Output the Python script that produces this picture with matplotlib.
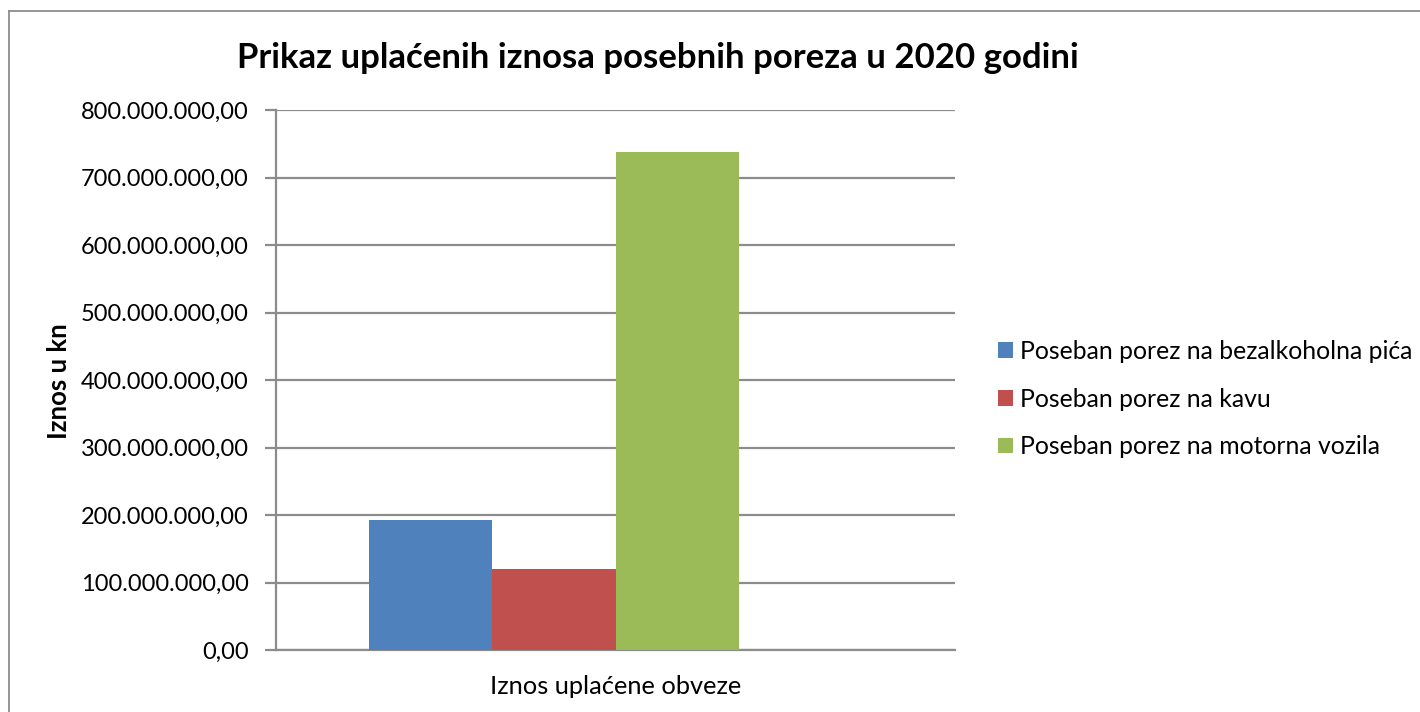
import matplotlib
matplotlib.use("Agg")
import matplotlib.pyplot as plt
from matplotlib.patches import Patch
from matplotlib.lines import Line2D
from matplotlib.ticker import FuncFormatter, MultipleLocator

# Data
categories = ["Iznos uplaćene obveze"]
series_names = [
    "Poseban porez na bezalkoholna pića",
    "Poseban porez na kavu",
    "Poseban porez na motorna vozila",
]
series_values = [192_500_000.0, 120_000_000.0, 738_000_000.0]
series_colors = ["#4F81BD", "#C0504D", "#9BBB59"]
title = "Prikaz uplaćenih iznosa posebnih poreza u 2020 godini"
ylabel = "Iznos u kn"

plt.rcParams["font.family"] = ["Lato", "DejaVu Sans"]

W, H = 1420, 712
fig = plt.figure(figsize=(W / 100, H / 100), dpi=100)

def fx(px):
    return px / W

def fy(py):
    return 1 - py / H

# plot area in pixels
L, R, T, B = 276, 955, 110, 650
ax = fig.add_axes([fx(L), fy(B), fx(R - L), (B - T) / H])

n_slots = 4          # Excel cluster reserves 4 slots (one empty)
gap = 1.5            # gap width (in bar widths)
bw = 1.0 / (n_slots + gap)
for i, (name, val, col) in enumerate(zip(series_names, series_values, series_colors)):
    x = 0 + (i - (n_slots - 1) / 2) * bw
    ax.bar(x, val, width=bw, color=col, label=name, zorder=3)

ax.set_xlim(-0.5, 0.5)
ax.set_ylim(0, 800_000_000)
ax.yaxis.set_major_locator(MultipleLocator(100_000_000))

def fmt(v, pos):
    s = f"{v:,.2f}"
    return s.replace(",", "X").replace(".", ",").replace("X", ".")

ax.yaxis.set_major_formatter(FuncFormatter(fmt))
ax.grid(axis="y", color="#8c8c8c", linewidth=1.6, zorder=0)
ax.set_axisbelow(True)
for s in ["top", "right"]:
    ax.spines[s].set_visible(False)
ax.spines["left"].set_color("#8c8c8c")
ax.spines["left"].set_linewidth(1.6)
ax.spines["bottom"].set_color("#8c8c8c")
ax.spines["bottom"].set_linewidth(1.6)
ax.tick_params(axis="y", length=8, width=1.6, color="#8c8c8c", labelsize=17, pad=11.5)
ax.set_xticks([0])
ax.set_xticklabels(categories, fontsize=18.3)
ax.tick_params(axis="x", length=0, pad=18)
ax.set_facecolor("white")

fig.text(fx(59), fy(381), ylabel, rotation=90, ha="center", va="center",
         fontsize=18.5, fontweight="bold")
fig.text(fx(658), fy(58), title, ha="center", va="center",
         fontsize=25, fontweight="bold")

handles = [Patch(facecolor=c, edgecolor="none") for c in series_colors]
fig.legend(handles, series_names, loc="center left",
           bbox_to_anchor=(fx(998), fy(399)), frameon=False,
           fontsize=17.8, handlelength=0.6, handleheight=0.6,
           handletextpad=0.3, labelspacing=1.0, borderaxespad=0, borderpad=0)

# chart border (left and top visible)
fig.add_artist(Line2D([fx(9), fx(9)], [fy(11), 0], color="#8c8c8c", linewidth=1.3,
                      transform=fig.transFigure))
fig.add_artist(Line2D([fx(9), 1], [fy(11), fy(11)], color="#8c8c8c", linewidth=1.3,
                      transform=fig.transFigure))

fig.savefig("out.png", dpi=100, facecolor="white")
